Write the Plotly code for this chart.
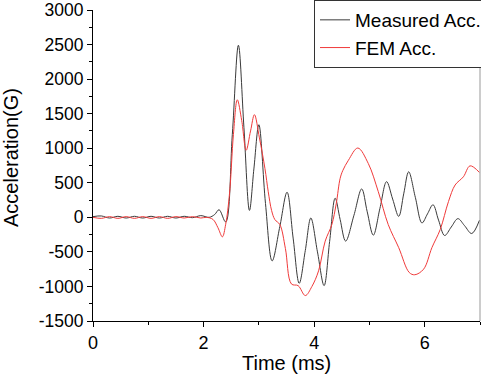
import plotly.graph_objects as go

# Measured acceleration (black)
meas_t = [0, 0.15, 0.3, 0.45, 0.6, 0.75, 0.9, 1.05, 1.2, 1.35, 1.5, 1.65, 1.8, 1.95, 2.1,
          2.2, 2.28, 2.40, 2.52, 2.63, 2.73, 2.83, 2.91, 3.0, 3.12, 3.24, 3.38, 3.51,
          3.62, 3.73, 3.84, 3.94, 4.06, 4.18, 4.28, 4.38, 4.47, 4.57, 4.72, 4.86, 4.96,
          5.07, 5.19, 5.31, 5.42, 5.53, 5.62, 5.71, 5.83, 5.95, 6.05, 6.15, 6.25, 6.36,
          6.48, 6.60, 6.72, 6.85, 6.99]
meas_g = [10, 20, -10, 15, -10, 15, -10, 15, -10, 15, -10, 15, -5, 25, 0,
          40, 110, -67, 1200, 2490, 1300, 100, 700, 1340, 200, -630, -130, 363,
          -300, -955, -480, -10, -500, -988, -350, 277, -30, -344, 30, 411, 80,
          -258, 130, 516, 265, 14, 340, 659, 290, -81, 50, 182, -40, -263,
          -140, -19, -120, -234, -43]

# FEM acceleration (red)
fem_t = [0, 0.15, 0.3, 0.45, 0.6, 0.75, 0.9, 1.05, 1.2, 1.35, 1.5, 1.65, 1.8, 1.95, 2.05,
         2.17, 2.26, 2.34, 2.40, 2.47, 2.54, 2.61, 2.69, 2.77, 2.85, 2.92, 3.01, 3.11,
         3.17, 3.23, 3.29, 3.38, 3.48, 3.59, 3.71, 3.84, 3.96, 4.08, 4.20, 4.32, 4.40,
         4.47, 4.52, 4.62, 4.79, 4.98, 5.16, 5.34, 5.53, 5.72, 5.82, 5.98, 6.13, 6.28,
         6.43, 6.55, 6.70, 6.82, 6.99]
fem_g = [0, -15, 10, -15, 10, -15, 10, -15, 10, -15, 10, -10, 10, -10, 0,
         -30, -150, -282, -100, 350, 1200, 1700, 1400, 970, 1250, 1485, 1150, 706,
         370, 100, -33, -105, -450, -965, -988, -1132, -1000, -774, -344, -105, 200,
         563, 680, 826, 1003, 778, 372, -105, -439, -798, -831, -750, -439, -177,
         229, 468, 587, 745, 649]

x_ticks = [0, 2, 4, 6]
y_ticks = [-1500, -1000, -500, 0, 500, 1000, 1500, 2000, 2500, 3000]

FONT = "Liberation Sans, Arial, sans-serif"

TOP = 10
BOTTOM_PX = 321
PLOT_H = BOTTOM_PX - TOP

fig = go.Figure()
fig.add_trace(go.Scatter(x=meas_t, y=meas_g, mode="lines", name="Measured Acc.",
                         line=dict(color="#3a3a3a", width=1, shape="spline", smoothing=1)))
fig.add_trace(go.Scatter(x=fem_t, y=fem_g, mode="lines", name="FEM Acc.",
                         line=dict(color="#f03a3a", width=1, shape="spline", smoothing=1)))

fig.update_layout(
    width=481, height=382,
    margin=dict(l=93, r=1, t=TOP, b=382 - BOTTOM_PX, autoexpand=False),
    paper_bgcolor="white", plot_bgcolor="white",
    font=dict(family=FONT, color="black", size=17),
    showlegend=True,
    legend=dict(x=(314 - 93) / 387, y=(BOTTOM_PX - 0) / PLOT_H, xanchor="left", yanchor="top",
                bordercolor="#333333", borderwidth=1, bgcolor="white",
                font=dict(size=19, family=FONT), tracegroupgap=0),
    xaxis=dict(range=[0, 7], tickvals=x_ticks, ticktext=[str(v) for v in x_ticks],
               ticks="outside", ticklen=5, tickwidth=1, tickcolor="black",
               minor=dict(dtick=1, ticks="outside", ticklen=3, tickcolor="black"),
               showline=True, linecolor="black", linewidth=1,
               showgrid=False, zeroline=False, ticklabeloverflow="allow",
               tickfont=dict(size=18, family=FONT)),
    yaxis=dict(range=[-1500, 3000], tickvals=y_ticks, ticktext=[str(v) for v in y_ticks],
               ticks="outside", ticklen=5, tickwidth=1, tickcolor="black",
               minor=dict(dtick=250, ticks="outside", ticklen=3, tickcolor="black"),
               showline=True, linecolor="black", linewidth=1,
               showgrid=False, zeroline=False, ticklabeloverflow="allow",
               tickfont=dict(size=17.5, family=FONT)),
    annotations=[
        dict(text="Acceleration(G)", xref="paper", yref="paper",
             x=(11 - 93) / 387, y=(BOTTOM_PX - 158) / PLOT_H, xanchor="center", yanchor="middle",
             textangle=-90, showarrow=False, font=dict(size=20, family=FONT)),
        dict(text="Time (ms)", xref="paper", yref="paper",
             x=0.5, y=(BOTTOM_PX - 363) / PLOT_H, xanchor="center", yanchor="middle",
             showarrow=False, font=dict(size=20, family=FONT)),
    ],
    shapes=[dict(type="line", xref="paper", yref="paper", x0=1, x1=1, y0=0, y1=1.04,
                 line=dict(color="#999999", width=1))],
)

fig.write_html("out.html", config={"displayModeBar": False},
               post_script="document.body.style.margin='0';document.body.style.overflow='hidden';")
